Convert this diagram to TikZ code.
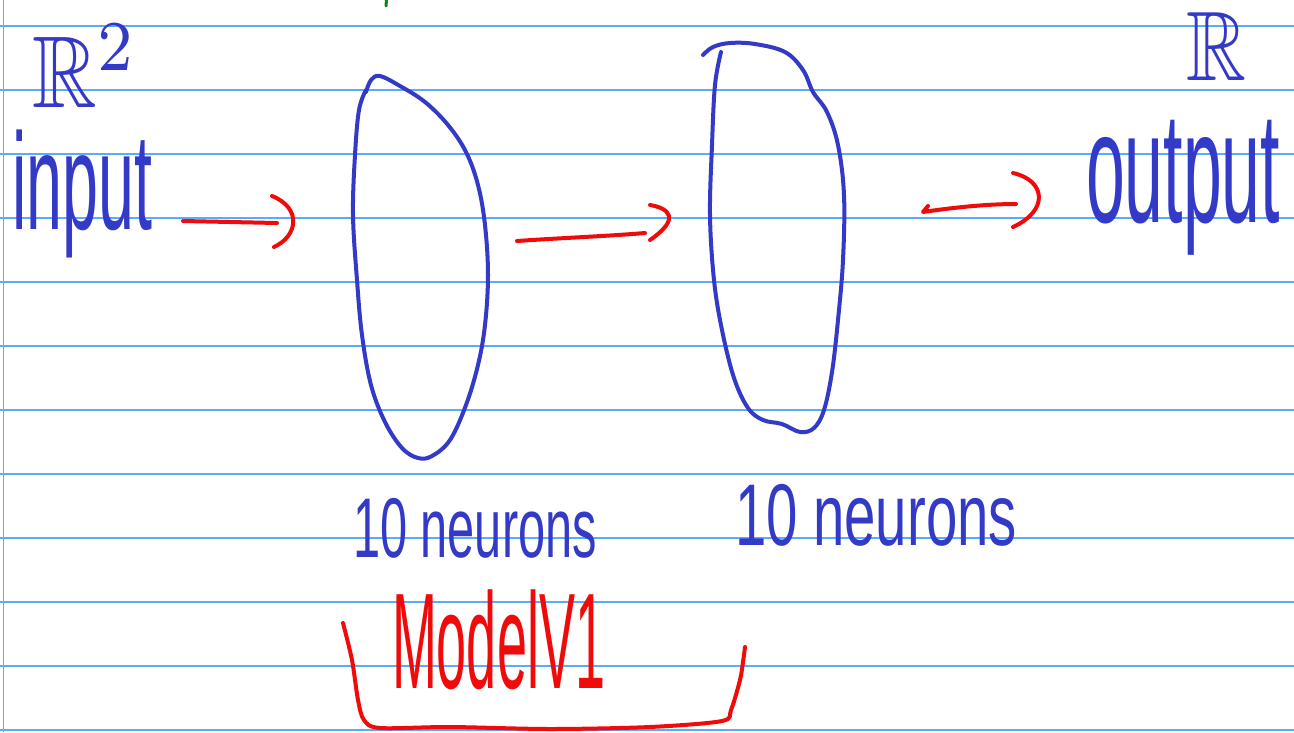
\documentclass[tikz,border=0pt]{standalone}
\usepackage{fontspec}
\setmainfont{Liberation Sans}
\usepackage{amssymb}
\usepackage{graphicx}
\definecolor{inkblue}{RGB}{52,58,200}
\definecolor{inkred}{RGB}{240,10,10}
\definecolor{rulecol}{RGB}{90,170,255}
\definecolor{margincol}{RGB}{255,100,200}
\definecolor{inkgreen}{RGB}{20,130,20}
\begin{document}
\begin{tikzpicture}[x=1pt,y=-1pt,
  pen/.style={line width=4pt, line cap=round, line join=round},
  bluepen/.style={pen, draw=inkblue},
  redpen/.style={pen, draw=inkred},
  rule/.style={draw=rulecol, line width=1.4pt},
  lbl/.style={inner sep=0pt, outer sep=0pt, anchor=north west, text=inkblue},
  redlbl/.style={lbl, text=inkred}]
\useasboundingbox (0,0) rectangle (1294,732);
\fill[white] (0,0) rectangle (1294,732);
\foreach \yy in {26,90,...,730} \draw[rule] (0,\yy) -- (1294,\yy);
\draw[draw=margincol, line width=1.4pt] (3.5,0) -- (3.5,732);
\draw[draw=inkgreen, line width=3pt, line cap=round] (386.5,0) -- (386,6);

% labels
\node[lbl] (r2) at (33,24) {\resizebox*{105pt}{83pt}{$\mathbb{R}^2$}};
\node[lbl] (inp) at (12,130) {\resizebox*{140pt}{128pt}{input}};
\node[lbl] (r1) at (1186,12) {\resizebox*{60pt}{68pt}{$\mathbb{R}$}};
\node[lbl] (outp) at (1086,120) {\resizebox*{194pt}{135pt}{output}};
\node[lbl] (n1) at (353,498) {\resizebox*{244pt}{60pt}{10 neurons}};
\node[lbl] (n2) at (735,484) {\resizebox*{282pt}{62pt}{10 neurons}};
\node[redlbl] (mv) at (392,590) {\resizebox*{213pt}{100pt}{ModelV1}};

% layer blobs
\coordinate (l1) at (420,266);
\coordinate (l2) at (775,237);
\draw[bluepen] plot[smooth, tension=0.6] coordinates {
  (366,92) (371,80) (380,76) (400,86) (425,102) (448,125) (466,152) (478,185)
  (485,225) (488,275) (485,325) (478,365) (466,405) (450,440) (432,456) (418,458)
  (402,448) (385,422) (371,385) (362,335) (357,280) (353,215) (355,155) (359,110) (366,90)};
\draw[bluepen] plot[smooth, tension=0.6] coordinates {
  (703,55) (713,47) (730,43) (755,44) (785,52) (803,70) (813,92) (827,112)
  (838,145) (844,195) (843,260) (838,320) (832,372) (824,410) (814,428) (800,432)
  (782,424) (763,420) (748,408) (734,378) (722,330) (714,280) (710,215) (712,145)
  (715,85) (721,52)};

% connectors
\coordinate (a1s) at (183,221);
\coordinate (a1e) at (277,223);
\coordinate (a2s) at (517,241);
\coordinate (a2e) at (645,233);
\coordinate (a3s) at (923,212);
\coordinate (a3e) at (1016,204);
\draw[redpen] (a1s) -- (a1e);
\draw[redpen] (272,196) .. controls (302,208) and (298,236) .. (274,247);
\draw[redpen] (a2s) .. controls (560,238) and (610,236) .. (a2e);
\draw[redpen] (650,205) .. controls (668,208) and (682,218) .. (650,240);
\draw[redpen] (928,206) -- (a3s) .. controls (950,208) and (985,204) .. (a3e);
\draw[redpen] (1013,173) .. controls (1045,180) and (1050,210) .. (1013,227);

% bracket
\draw[redpen] plot[smooth, tension=0.5] coordinates {
  (343,623) (352,660) (358,700) (364,720) (380,728) (450,727) (550,729)
  (650,727) (722,721) (731,710) (740,680) (743,662) (745,647)};
\end{tikzpicture}
\end{document}
